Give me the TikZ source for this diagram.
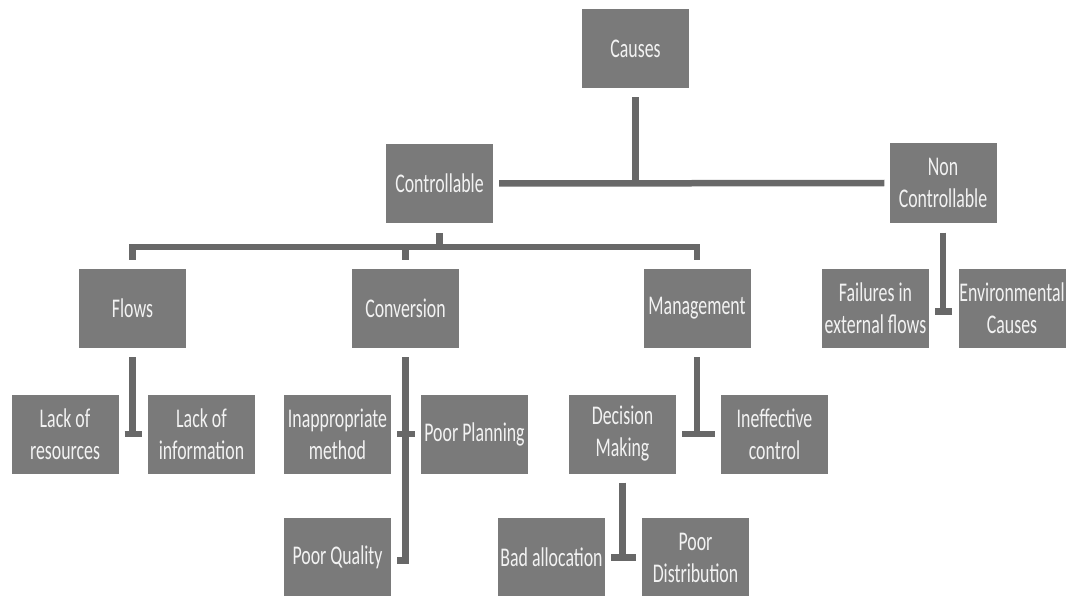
\documentclass[tikz,border=0pt]{standalone}
\usepackage{fontspec}
\newfontfamily\boxfont[FakeStretch=0.66]{Carlito}
\definecolor{boxgray}{HTML}{7A7A7A}
\definecolor{linkgray}{HTML}{686868}
\definecolor{boxtext}{HTML}{F2F2F2}
\begin{document}
\begin{tikzpicture}[x=1pt,y=-1pt,
  cause/.style={fill=boxgray, draw=none, text=boxtext, minimum width=107pt,
    minimum height=79pt, inner sep=0pt, align=center,
    font=\boxfont\fontsize{27}{32}\selectfont},
  link/.style={draw=linkgray, line width=6.5pt, line cap=butt, line join=miter}]
\useasboundingbox (0,0) rectangle (1070,596);

% top levels
\node[cause] (causes)   at (635.5,48.5) {Causes};
\node[cause] (ctrl)     at (439.5,183.5) {Controllable};
\node[cause] (nonctrl)  at (943,183) {Non\\Controllable};

% controllable branches
\node[cause] (flows)    at (132.5,308.5) {Flows};
\node[cause] (conv)     at (405.5,308.5) {Conversion};
\node[cause] (mgmt)     at (697,308.5) {Management};

% non controllable leaves
\node[cause] (failures) at (875.5,308.5) {Failures in\\external flows};
\node[cause] (env)      at (1012,308.5) {Environmental\\Causes};

% third row
\node[cause] (lackres)  at (65,434) {Lack of\\resources};
\node[cause] (lackinfo) at (201.5,434) {Lack of\\information};
\node[cause] (inapp)    at (337.5,434) {Inappropriate\\method};
\node[cause] (poorplan) at (474.5,434) {Poor Planning};
\node[cause] (decision) at (622.5,434) {Decision\\Making};
\node[cause] (ineff)    at (774.5,434) {Ineffective\\control};

% fourth row
\node[cause] (poorq)    at (337.5,557.5) {Poor Quality};
\node[cause] (badalloc) at (551.5,557.5) {Bad allocation};
\node[cause] (poordist) at (695.5,557.5) {Poor\\Distribution};

% causes -> controllable / non controllable
\draw[link] ([yshift=-9pt]causes.south) -- (causes.south |- ctrl.east);
\draw[link] ([xshift=6pt]ctrl.east) -- ([xshift=-5pt]nonctrl.west);

% controllable -> flows / conversion / management
\draw[link] ([yshift=-10pt]ctrl.south) -- ++(0,14);
\draw[link] ([yshift=9pt]flows.north) -- ++(0,-13) -| ([yshift=9pt]mgmt.north);
\draw[link] ([yshift=9pt]conv.north) -- ++(0,-13);

% flows -> lack of resources / information
\draw[link] ([yshift=-9pt]flows.south) -- (flows.south |- lackres.east);
\draw[link] ([xshift=6pt]lackres.east) -- ([xshift=-6pt]lackinfo.west);

% conversion -> method / planning / quality
\draw[link] ([yshift=-9pt]conv.south) -- ([yshift=-3pt]conv.south |- poorq.east)
  -- ([yshift=-3pt,xshift=6pt]poorq.east);
\draw[link] ([xshift=6pt]inapp.east) -- ([xshift=-6pt]poorplan.west);

% management -> decision making / ineffective control
\draw[link] ([yshift=-9pt]mgmt.south) -- (mgmt.south |- decision.east);
\draw[link] ([xshift=6pt]decision.east) -- ([xshift=-6pt]ineff.west);

% decision making -> allocation / distribution
\draw[link] ([yshift=-9pt]decision.south) -- (decision.south |- badalloc.east);
\draw[link] ([xshift=6pt]badalloc.east) -- ([xshift=-6pt]poordist.west);

% non controllable -> external flows / environmental
\draw[link] ([yshift=-10pt]nonctrl.south) -- ([yshift=-3pt]nonctrl.south |- failures.east);
\draw[link] ([xshift=6pt,yshift=-3pt]failures.east) -- ([xshift=-6pt,yshift=-3pt]env.west);
\end{tikzpicture}
\end{document}
